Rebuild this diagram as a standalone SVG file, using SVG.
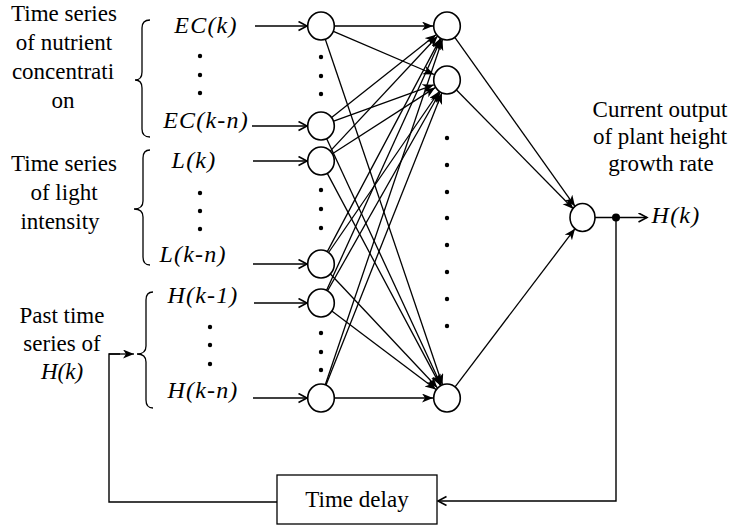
<svg xmlns="http://www.w3.org/2000/svg" width="732" height="526" viewBox="0 0 732 526" font-family="'Liberation Serif', 'Nimbus Roman', 'DejaVu Serif', serif">
  <style>
    text { font-family: "Liberation Serif", "Nimbus Roman", "DejaVu Serif", serif; fill: #000; }
    .lbl { font-size: 23px; text-anchor: middle; }
    .var { font-size: 24px; font-style: italic; text-anchor: middle; letter-spacing: 1.2px; }
    .node { fill: #fff; stroke: #000; stroke-width: 1.6; }
    .edge { fill: none; stroke: #000; stroke-width: 1.3; marker-end: url(#stealth); }
    .in { fill: none; stroke: #000; stroke-width: 1.4; marker-end: url(#vee); }
    .wire { fill: none; stroke: #000; stroke-width: 1.4; }
    .brace { fill: none; stroke: #000; stroke-width: 1.3; }
    .dot { fill: #000; }
  </style>
  <defs>
    <marker id="stealth" markerUnits="userSpaceOnUse" markerWidth="12" markerHeight="10" refX="11" refY="4.5" orient="auto">
      <path d="M0,0 L11,4.5 L0,9 L3,4.5 z" fill="#000"/>
    </marker>
    <marker id="vee" markerUnits="userSpaceOnUse" markerWidth="12" markerHeight="12" refX="9.5" refY="5" orient="auto">
      <path d="M1,0.5 L9.5,5 L1,9.5" fill="none" stroke="#000" stroke-width="1.6"/>
    </marker>
  </defs>

  <rect width="732" height="526" fill="#fff"/>

  <!-- group captions -->
  <g id="caption-nutrient">
    <text class="lbl" x="64" y="21">Time series</text>
    <text class="lbl" x="64" y="50">of nutrient</text>
    <text class="lbl" x="63" y="79">concentrati</text>
    <text class="lbl" x="63" y="108">on</text>
  </g>
  <g id="caption-light">
    <text class="lbl" x="64" y="171">Time series</text>
    <text class="lbl" x="64" y="200">of light</text>
    <text class="lbl" x="60" y="229">intensity</text>
  </g>
  <g id="caption-past">
    <text class="lbl" x="62" y="323">Past time</text>
    <text class="lbl" x="62" y="351">series of</text>
    <text class="lbl" x="62" y="379" font-style="italic">H(k)</text>
  </g>
  <g id="caption-output">
    <text class="lbl" x="660" y="117">Current output</text>
    <text class="lbl" x="660" y="144">of plant height</text>
    <text class="lbl" x="661" y="171">growth rate</text>
  </g>

  <!-- braces -->
  <g id="braces">
    <path class="brace" d="M150,20 Q142,20 142,28 L142,72 Q142,80 135,80 Q142,80 142,88 L142,129 Q142,137 150,137"/>
    <path class="brace" d="M150,150 Q143,150 143,158 L143,201 Q143,209 134,209 Q143,209 143,217 L143,257 Q143,265 150,265"/>
    <path class="brace" d="M153,292 Q146,292 146,300 L146,346 Q146,354 137,354 Q146,354 146,362 L146,400 Q146,408 153,408"/>
  </g>

  <!-- input variables -->
  <g id="inputs">
    <text class="var" x="206" y="33">EC(k)</text>
    <circle class="dot" cx="200" cy="56" r="2.2"/>
    <circle class="dot" cx="200" cy="75" r="2.2"/>
    <circle class="dot" cx="200" cy="93" r="2.2"/>
    <text class="var" x="206" y="128">EC(k-n)</text>
    <text class="var" x="194" y="168">L(k)</text>
    <circle class="dot" cx="200" cy="193" r="2.2"/>
    <circle class="dot" cx="200" cy="211" r="2.2"/>
    <circle class="dot" cx="200" cy="229" r="2.2"/>
    <text class="var" x="193" y="262">L(k-n)</text>
    <text class="var" x="203" y="303">H(k-1)</text>
    <circle class="dot" cx="210" cy="327" r="2.2"/>
    <circle class="dot" cx="210" cy="345" r="2.2"/>
    <circle class="dot" cx="210" cy="364" r="2.2"/>
    <text class="var" x="203" y="398">H(k-n)</text>
  </g>

  <!-- connectors -->
  <g id="connectors">
    <!-- inputs into the input layer -->
    <line class="in" x1="255" y1="26" x2="307" y2="26"/>
    <line class="in" x1="252" y1="126" x2="307" y2="126"/>
    <line class="in" x1="253" y1="161" x2="307" y2="161"/>
    <line class="in" x1="253" y1="264" x2="307" y2="264"/>
    <line class="in" x1="254" y1="303" x2="307" y2="303"/>
    <line class="in" x1="253" y1="398" x2="307" y2="398"/>

    <!-- input layer to hidden layer -->
    <line class="edge" x1="334.5" y1="26" x2="433" y2="26"/>
    <line class="edge" x1="333.4" y1="31.3" x2="434.1" y2="74.5"/>
    <line class="edge" x1="325.3" y1="39.3" x2="442.5" y2="384.7"/>
    <line class="edge" x1="331.6" y1="117.6" x2="436" y2="34.7"/>
    <line class="edge" x1="333.7" y1="121.2" x2="433.8" y2="84.8"/>
    <line class="edge" x1="326.7" y1="138.7" x2="441.1" y2="385.3"/>
    <line class="edge" x1="330.2" y1="151.1" x2="437.5" y2="36.2"/>
    <line class="edge" x1="332.4" y1="153.7" x2="435.2" y2="87.6"/>
    <line class="edge" x1="327.3" y1="173.4" x2="440.4" y2="385.6"/>
    <line class="edge" x1="327.3" y1="251.6" x2="440.4" y2="38.4"/>
    <line class="edge" x1="328.6" y1="252.5" x2="439.1" y2="91.5"/>
    <line class="edge" x1="330.2" y1="273.8" x2="437.4" y2="387.8"/>
    <line class="edge" x1="326.6" y1="290.3" x2="441.2" y2="38.7"/>
    <line class="edge" x1="327.6" y1="290.8" x2="440.1" y2="92.2"/>
    <line class="edge" x1="331.8" y1="311.1" x2="436" y2="389.6"/>
    <line class="edge" x1="325.3" y1="384.7" x2="442.5" y2="39.3"/>
    <line class="edge" x1="326" y1="385" x2="441.9" y2="93"/>
    <line class="edge" x1="334.5" y1="398" x2="433" y2="398"/>

    <!-- hidden layer to output -->
    <line class="edge" x1="454.8" y1="37.4" x2="575" y2="206.3"/>
    <line class="edge" x1="456.5" y1="90" x2="573.5" y2="209"/>
    <line class="edge" x1="455.1" y1="386.8" x2="575" y2="228.7"/>

    <!-- output and feedback loop -->
    <line class="in" x1="595" y1="217.5" x2="647" y2="217.5"/>
    <polyline class="in" points="616,217.5 616,501 438,501"/>
    <polyline class="wire" points="277,502 109,502 109,354 120,354"/>
    <line class="edge" x1="109" y1="354" x2="134" y2="354" stroke-width="1.4"/>
    <circle class="dot" cx="616" cy="217.5" r="4"/>
  </g>

  <!-- input layer -->
  <g id="input-layer">
    <ellipse class="node" cx="321" cy="26" rx="13.3" ry="14"/>
    <circle class="dot" cx="321" cy="57" r="2.2"/>
    <circle class="dot" cx="321" cy="76" r="2.2"/>
    <circle class="dot" cx="321" cy="94" r="2.2"/>
    <ellipse class="node" cx="321" cy="126" rx="13.3" ry="14"/>
    <ellipse class="node" cx="321" cy="161" rx="13.3" ry="14"/>
    <circle class="dot" cx="321" cy="190" r="2.2"/>
    <circle class="dot" cx="321" cy="209" r="2.2"/>
    <circle class="dot" cx="321" cy="228" r="2.2"/>
    <ellipse class="node" cx="321" cy="264" rx="13.3" ry="14"/>
    <ellipse class="node" cx="321" cy="303" rx="13.3" ry="14"/>
    <circle class="dot" cx="321" cy="333" r="2.2"/>
    <circle class="dot" cx="321" cy="352" r="2.2"/>
    <circle class="dot" cx="321" cy="370" r="2.2"/>
    <ellipse class="node" cx="321" cy="398" rx="13.3" ry="14"/>
  </g>

  <!-- hidden layer -->
  <g id="hidden-layer">
    <ellipse class="node" cx="447" cy="26" rx="13.3" ry="14"/>
    <ellipse class="node" cx="447" cy="80" rx="13.3" ry="14"/>
    <circle class="dot" cx="447" cy="138" r="2.2"/>
    <circle class="dot" cx="447" cy="165" r="2.2"/>
    <circle class="dot" cx="447" cy="192" r="2.2"/>
    <circle class="dot" cx="447" cy="218" r="2.2"/>
    <circle class="dot" cx="447" cy="245" r="2.2"/>
    <circle class="dot" cx="447" cy="272" r="2.2"/>
    <circle class="dot" cx="447" cy="299" r="2.2"/>
    <circle class="dot" cx="447" cy="326" r="2.2"/>
    <ellipse class="node" cx="447" cy="398" rx="13.3" ry="14"/>
  </g>

  <!-- output node -->
  <g id="output-node">
    <ellipse class="node" cx="582.5" cy="217.5" rx="12.5" ry="14"/>
    <text class="var" x="676" y="223">H(k)</text>
  </g>

  <!-- delay block -->
  <g id="time-delay">
    <rect x="277" y="475" width="160" height="49" fill="#fff" stroke="#000" stroke-width="1.3"/>
    <text class="lbl" x="357" y="507">Time delay</text>
  </g>
</svg>
